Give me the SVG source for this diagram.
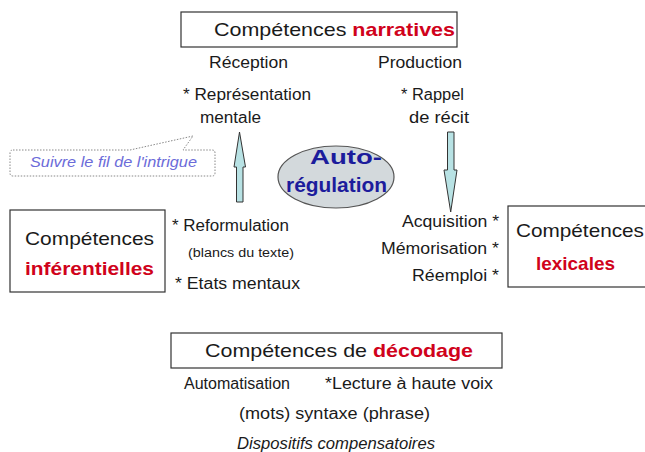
<svg xmlns="http://www.w3.org/2000/svg" width="645" height="452" viewBox="0 0 645 452">
<style>
.t{font-family:"Liberation Sans",Arial,sans-serif;fill:#1a1a1a}
.box{fill:#fff;stroke:#333;stroke-width:1.2}
.red{fill:#d0021b;font-weight:bold}
.arr{fill:#b8e2e4;stroke:#333;stroke-width:1}
.blue{font-family:"Liberation Sans",Arial,sans-serif;font-weight:bold;fill:#1c1c9c}
</style>
<rect width="645" height="452" fill="#fff"/>
<g id="narratives">
<rect class="box" x="181" y="12" width="276" height="35"/>
<text class="t" x="214" y="36" font-size="19" textLength="241" lengthAdjust="spacingAndGlyphs">Compétences <tspan class="red">narratives</tspan></text>
</g>
<g id="labels-narratives">
<text class="t" x="209" y="68" font-size="16" textLength="79" lengthAdjust="spacingAndGlyphs">Réception</text>
<text class="t" x="378" y="68" font-size="16" textLength="84" lengthAdjust="spacingAndGlyphs">Production</text>
<text class="t" x="183" y="100" font-size="16" textLength="128" lengthAdjust="spacingAndGlyphs">* Représentation</text>
<text class="t" x="200" y="123" font-size="16" textLength="61" lengthAdjust="spacingAndGlyphs">mentale</text>
<text class="t" x="401" y="100" font-size="16" textLength="63" lengthAdjust="spacingAndGlyphs">* Rappel</text>
<text class="t" x="409" y="123" font-size="16" textLength="60" lengthAdjust="spacingAndGlyphs">de récit</text>
</g>
<g id="callout">
<path d="M13,150 L130,150 L193,136 L183,150 L212,150 Q215,150 215,153 L215,173 Q215,176 212,176 L13,176 Q10,176 10,173 L10,153 Q10,150 13,150 Z" fill="#fff" stroke="#888" stroke-width="1" stroke-dasharray="1.5,1.5"/>
<text x="30" y="167" font-size="14" font-style="italic" font-family="Liberation Sans,Arial,sans-serif" fill="#6b6bd9" textLength="167" lengthAdjust="spacingAndGlyphs">Suivre le fil de l'intrigue</text>
</g>
<g id="autoregulation">
<ellipse cx="336" cy="177" rx="58" ry="31" fill="#d3d9dc" stroke="#555" stroke-width="1.2"/>
<text class="blue" x="310" y="164" font-size="21" textLength="72" lengthAdjust="spacingAndGlyphs">Auto-</text>
<text class="blue" x="286" y="192" font-size="21" textLength="101" lengthAdjust="spacingAndGlyphs">régulation</text>
</g>
<g id="connectors">
<path class="arr" d="M239.5,132 L245.5,167 L243,167 L243,202 L236.5,202 L236.5,167 L234,167 Z"/>
<path class="arr" d="M447.5,132 L454,132 L454,170 L457,170 L450.7,212 L444,170 L447.5,170 Z"/>
</g>
<g id="inferentielles">
<rect class="box" x="10" y="210" width="155" height="82"/>
<text class="t" x="25" y="245" font-size="19" textLength="129" lengthAdjust="spacingAndGlyphs">Compétences</text>
<text class="t red" x="25" y="275" font-size="19" textLength="129" lengthAdjust="spacingAndGlyphs">inférentielles</text>
</g>
<g id="labels-inferentielles">
<text class="t" x="172" y="231" font-size="16" textLength="117" lengthAdjust="spacingAndGlyphs">* Reformulation</text>
<text class="t" x="188" y="257" font-size="12" textLength="106" lengthAdjust="spacingAndGlyphs">(blancs du texte)</text>
<text class="t" x="175" y="289" font-size="16" textLength="125" lengthAdjust="spacingAndGlyphs">* Etats mentaux</text>
</g>
<g id="lexicales">
<rect class="box" x="508" y="206" width="145" height="81"/>
<text class="t" x="516" y="237" font-size="19" textLength="128" lengthAdjust="spacingAndGlyphs">Compétences</text>
<text class="t red" x="536" y="270" font-size="19" textLength="79" lengthAdjust="spacingAndGlyphs">lexicales</text>
</g>
<g id="labels-lexicales">
<text class="t" x="402" y="227" font-size="16" textLength="97" lengthAdjust="spacingAndGlyphs">Acquisition *</text>
<text class="t" x="381" y="254" font-size="16" textLength="118" lengthAdjust="spacingAndGlyphs">Mémorisation *</text>
<text class="t" x="412" y="281" font-size="16" textLength="87" lengthAdjust="spacingAndGlyphs">Réemploi *</text>
</g>
<g id="decodage">
<rect class="box" x="171" y="333" width="331" height="35"/>
<text class="t" x="205" y="357" font-size="19" textLength="268" lengthAdjust="spacingAndGlyphs">Compétences de <tspan class="red">décodage</tspan></text>
</g>
<g id="labels-decodage">
<text class="t" x="184" y="389" font-size="16" textLength="106" lengthAdjust="spacingAndGlyphs">Automatisation</text>
<text class="t" x="325" y="389" font-size="16" textLength="168" lengthAdjust="spacingAndGlyphs">*Lecture à haute voix</text>
<text class="t" x="239" y="419" font-size="16" textLength="191" lengthAdjust="spacingAndGlyphs">(mots) syntaxe (phrase)</text>
<text class="t" x="237" y="449" font-size="16" font-style="italic" textLength="198" lengthAdjust="spacingAndGlyphs">Dispositifs compensatoires</text>
</g>
</svg>
